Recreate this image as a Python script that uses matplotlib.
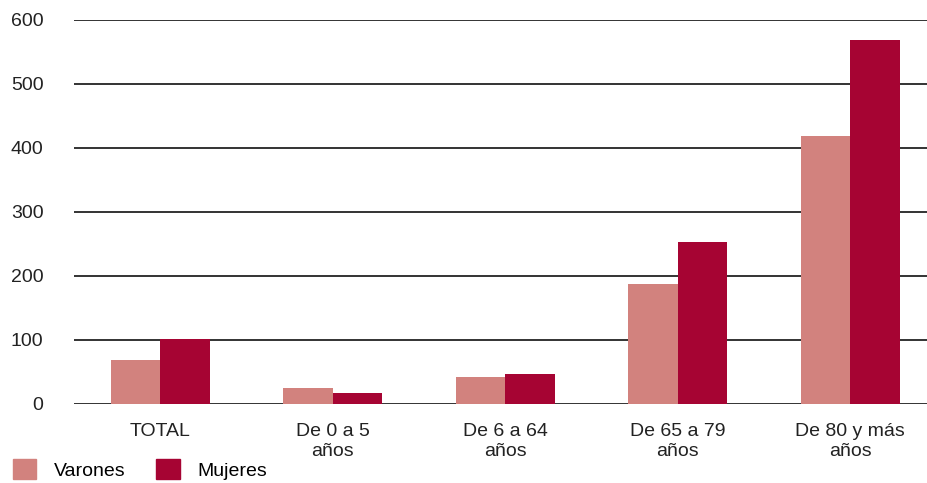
import matplotlib.pyplot as plt
import numpy as np
from matplotlib.patches import Patch

categories = ['TOTAL', 'De 0 a 5\naños', 'De 6 a 64\naños', 'De 65 a 79\naños', 'De 80 y más\naños']
varones = [69, 25, 42, 187, 419]
mujeres = [101, 17, 47, 253, 569]
yticks = [0, 100, 200, 300, 400, 500, 600]

c_var = '#d2827e'
c_muj = '#a60433'

plt.rcParams['font.family'] = ['Liberation Sans', 'DejaVu Sans']

fig = plt.figure(figsize=(9.28, 4.83), dpi=100)
ax = fig.add_axes([0.0797, 0.1636, 0.9203, 0.795])

x = np.arange(len(categories))
w = 0.287
ax.bar(x - w / 2, varones, w, color=c_var, zorder=3)
ax.bar(x + w / 2, mujeres, w, color=c_muj, zorder=3)

ax.set_ylim(0, 600)
ax.set_xlim(-0.5, 4.45)
ax.set_yticks(yticks)
ax.set_yticklabels([str(t) for t in yticks], fontsize=14, color='#222222')
for t in yticks:
    ax.axhline(t, color='#333333', lw=1.4, zorder=1)
ax.set_xticks(x)
ax.set_xticklabels(categories, fontsize=14, color='#222222', linespacing=1.2)
ax.tick_params(axis='both', length=0)
ax.tick_params(axis='y', pad=22)
ax.tick_params(axis='x', pad=14)
for s in ax.spines.values():
    s.set_visible(False)

handles = [Patch(color=c_var, label='Varones'), Patch(color=c_muj, label='Mujeres')]
fig.legend(handles=handles, loc='lower left', bbox_to_anchor=(-0.005, -0.03), ncol=2,
           frameon=False, fontsize=14, handlelength=1.2, handleheight=1.2,
           handletextpad=0.9, columnspacing=1.6)

fig.savefig('out.png', dpi=100)
